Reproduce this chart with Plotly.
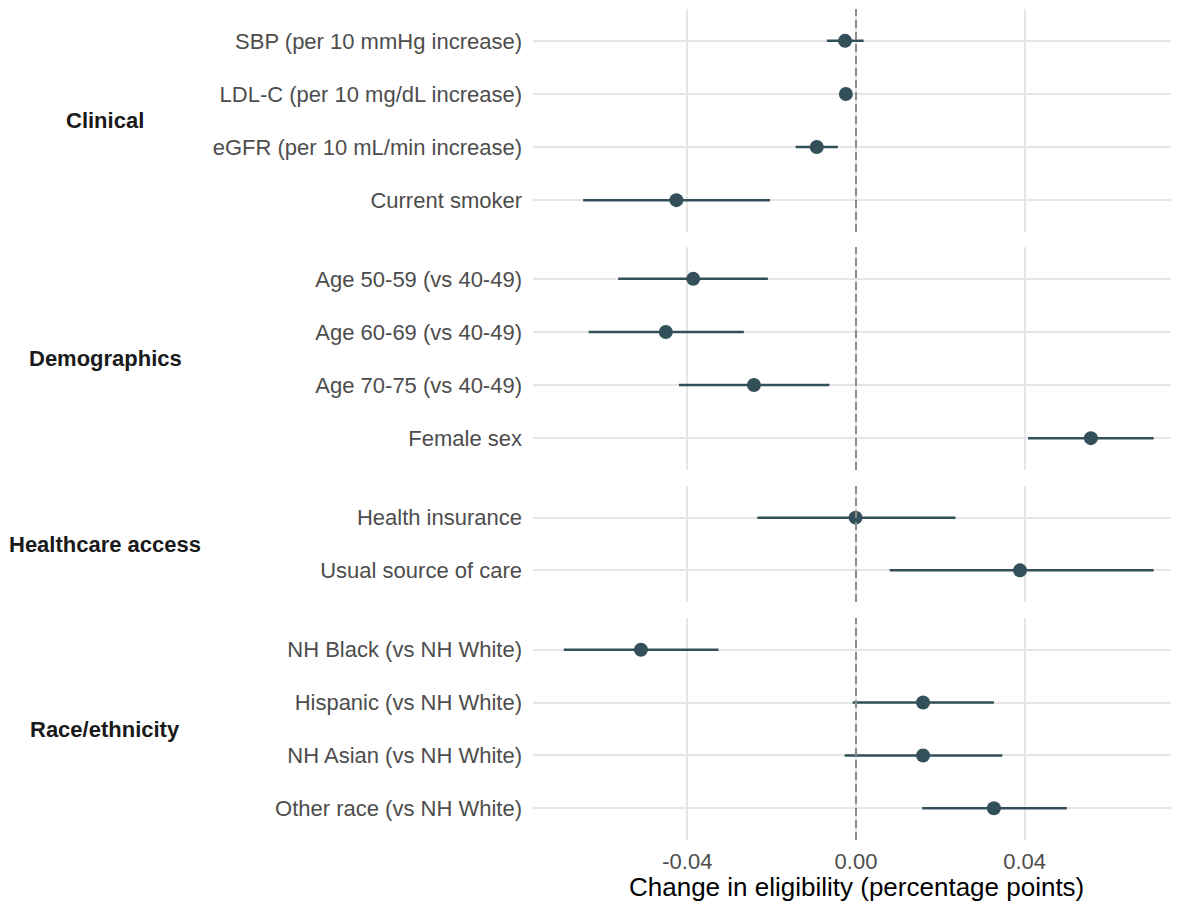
import plotly.graph_objects as go
from plotly.subplots import make_subplots

# ---------------- data ----------------
groups = ["Clinical", "Demographics", "Healthcare access", "Race/ethnicity"]

clinical_labels = ["SBP (per 10 mmHg increase)", "LDL-C (per 10 mg/dL increase)",
                   "eGFR (per 10 mL/min increase)", "Current smoker"]
clinical_est = [-0.0026, -0.0024, -0.0093, -0.0426]
clinical_lo = [-0.0069, -0.0034, -0.0143, -0.0647]
clinical_hi = [0.0018, -0.0014, -0.0043, -0.0204]

demo_labels = ["Age 50-59 (vs 40-49)", "Age 60-69 (vs 40-49)",
               "Age 70-75 (vs 40-49)", "Female sex"]
demo_est = [-0.0386, -0.0451, -0.0242, 0.0557]
demo_lo = [-0.0564, -0.0634, -0.0420, 0.0408]
demo_hi = [-0.0209, -0.0266, -0.0063, 0.0706]

access_labels = ["Health insurance", "Usual source of care"]
access_est = [-0.0001, 0.0389]
access_lo = [-0.0234, 0.0080]
access_hi = [0.0236, 0.0706]

race_labels = ["NH Black (vs NH White)", "Hispanic (vs NH White)",
               "NH Asian (vs NH White)", "Other race (vs NH White)"]
race_est = [-0.0510, 0.0159, 0.0159, 0.0327]
race_lo = [-0.0693, -0.0008, -0.0027, 0.0157]
race_hi = [-0.0326, 0.0327, 0.0347, 0.0500]

x_ticks = [-0.04, 0.0, 0.04]
x_ticktext = ["-0.04", "0.00", "0.04"]

panels = [
    (clinical_labels, clinical_est, clinical_lo, clinical_hi),
    (demo_labels, demo_est, demo_lo, demo_hi),
    (access_labels, access_est, access_lo, access_hi),
    (race_labels, race_est, race_lo, race_hi),
]

# ---------------- layout (page body has an 8px margin) ----------------
OFF = 8
PAGE_W, PAGE_H = 1179, 905
W, H = PAGE_W - OFF, PAGE_H - OFF
panel_left, panel_top, panel_bottom = 533, 9, 840
M_L = panel_left - OFF
M_T = panel_top - OFF
M_R = 0
M_B = PAGE_H - panel_bottom
plot_h = panel_bottom - panel_top
panel_px = [(9, 232), (247, 470), (486, 602), (618, 840)]
domains = [[(panel_bottom - b) / plot_h, (panel_bottom - t) / plot_h] for t, b in panel_px]
plot_w = PAGE_W - panel_left

POINT = "#33505A"
GRID = "#E6E6E6"
FONT = "Liberation Sans, Arial, sans-serif"

fig = make_subplots(rows=4, cols=1, shared_xaxes=True, vertical_spacing=0.02)

for i, (labels, est, lo, hi) in enumerate(panels):
    r = i + 1
    idx = list(range(len(labels)))
    fig.add_trace(go.Scatter(
        x=est, y=idx, mode="markers",
        marker=dict(size=14, color=POINT, line=dict(width=0)),
        error_x=dict(type="data", symmetric=False,
                     array=[h - e for h, e in zip(hi, est)],
                     arrayminus=[e - l for e, l in zip(est, lo)],
                     color=POINT, thickness=2.5, width=0),
        showlegend=False, hoverinfo="skip",
    ), row=r, col=1)
    n = len(labels)
    fig.update_yaxes(
        domain=domains[i], range=[n - 1 + 0.6, -0.6],
        tickmode="array", tickvals=idx, ticktext=labels,
        showgrid=True, gridcolor=GRID, gridwidth=2,
        zeroline=False, showline=False, ticks="",
        ticklabelstandoff=10,
        tickfont=dict(family=FONT, size=22, color="#4D4D4D"),
        row=r, col=1)
    fig.update_xaxes(
        range=[-0.0766, 0.0766], tickmode="array", tickvals=x_ticks,
        ticktext=x_ticktext, showgrid=True, gridcolor=GRID, gridwidth=2,
        zeroline=False, showline=False, ticks="",
        showticklabels=(r == 4), ticklabelstandoff=6,
        tickfont=dict(family=FONT, size=22, color="#4D4D4D"),
        row=r, col=1)
    fig.add_vline(x=0, line=dict(color="#8C8C8C", width=2, dash="8px,4px"),
                  row=r, col=1)
    # facet strip label
    fig.add_annotation(
        x=(105 - panel_left) / plot_w, xref="paper", xanchor="center",
        y=sum(domains[i]) / 2, yref="paper", yanchor="middle",
        text="<b>" + groups[i] + "</b>", showarrow=False,
        font=dict(family=FONT, size=22, color="#1A1A1A"))

fig.add_annotation(
    x=0.5, xref="paper", xanchor="center",
    y=(panel_bottom - 887) / plot_h, yref="paper", yanchor="middle",
    text="Change in eligibility (percentage points)", showarrow=False,
    font=dict(family=FONT, size=26, color="#000000"))

fig.update_layout(
    width=W, height=H,
    margin=dict(l=M_L, r=M_R, t=M_T, b=M_B, pad=0),
    paper_bgcolor="white", plot_bgcolor="white",
    font=dict(family=FONT),
)

fig.write_html("out.html")
